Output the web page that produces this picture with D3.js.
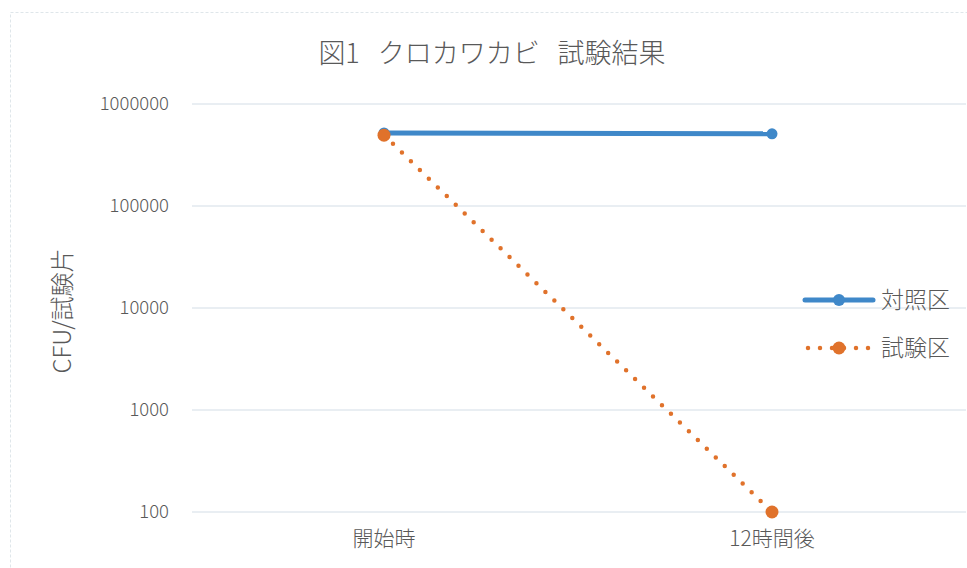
<!DOCTYPE html>
<html><head><meta charset="utf-8">
<script src="https://cdn.jsdelivr.net/npm/d3@7"></script>
<style>
html,body{margin:0;padding:0;background:#fff;}
svg{display:block;font-family:"Noto Sans CJK JP","Noto Sans",sans-serif;}
text{font-weight:300;}
</style></head>
<body>
<svg id="chart" width="967" height="568"></svg>
<script>
const title = "図1\u00a0\u00a0\u00a0クロカワカビ\u00a0\u00a0\u00a0試験結果";
const yAxisTitle = "CFU/試験片";
const categories = ["開始時", "12時間後"];
const seriesNames = ["対照区", "試験区"];
const controlValues = [520000, 510000];
const testValues = [495000, 100];
const yTicks = [100, 1000, 10000, 100000, 1000000];

const colors = {"対照区": "#3f88c9", "試験区": "#e0722b"};
const textColor = "#595959";
const fam = "'Noto Sans CJK JP','Noto Sans',sans-serif";

const svg = d3.select("#chart");
const plot = {left: 190, right: 966, top: 104, bottom: 512};

// faint chart border
svg.append("rect").attr("x", 10.5).attr("y", 12.5).attr("width", 1000).attr("height", 600)
  .attr("fill", "none").attr("stroke", "#dfe6ea").attr("stroke-width", 1).attr("stroke-dasharray", "3 2");

const x = d3.scaleBand().domain(categories).range([plot.left, plot.right]);
const y = d3.scaleLog().domain([100, 1000000]).range([plot.bottom, plot.top]);

// gridlines
svg.append("g").selectAll("line").data(yTicks).join("line")
  .attr("x1", plot.left + 2).attr("x2", plot.right)
  .attr("y1", d => y(d)).attr("y2", d => y(d))
  .attr("stroke", "#d3dde6").attr("stroke-width", 1);

// y axis labels
const yAxis = d3.axisLeft(y).tickValues(yTicks).tickFormat(d3.format("d")).tickSize(0).tickPadding(0);
const yg = svg.append("g").attr("transform", `translate(${plot.left - 21},0)`).call(yAxis);
yg.select(".domain").remove();
yg.selectAll("text").attr("fill", textColor).style("font-size", "18.5px").style("font-family", fam).style("font-weight", 300);

// x axis labels
const xAxis = d3.axisBottom(x).tickSize(0).tickPadding(0);
const xg = svg.append("g").attr("transform", `translate(0,${plot.bottom + 19})`).call(xAxis);
xg.select(".domain").remove();
xg.selectAll("text").attr("fill", textColor).style("font-size", "21px").style("font-family", fam).style("font-weight", 300);

// title
svg.append("text").attr("x", 492).attr("y", 63).attr("text-anchor", "middle")
  .attr("fill", textColor).style("font-size", "27px").text(title);

// y axis title
svg.append("text").attr("transform", "translate(63,311) rotate(-90)").attr("text-anchor", "middle")
  .attr("dy", "0.35em").attr("fill", textColor).style("font-size", "24px").text(yAxisTitle);

const cx = d => x(d) + x.bandwidth() / 2;
const line = d3.line().x(d => cx(d[0])).y(d => y(d[1]));

const control = categories.map((c, i) => [c, controlValues[i]]);
const test = categories.map((c, i) => [c, testValues[i]]);

// control series
svg.append("path").datum(control).attr("d", line).attr("fill", "none")
  .attr("stroke", colors["対照区"]).attr("stroke-width", 5);
svg.append("g").selectAll("circle").data(control).join("circle")
  .attr("cx", d => cx(d[0])).attr("cy", d => y(d[1])).attr("r", 5.5).attr("fill", colors["対照区"]);

// test series (dotted)
svg.append("path").datum(test).attr("d", line).attr("fill", "none")
  .attr("stroke", colors["試験区"]).attr("stroke-width", 4.5)
  .attr("stroke-linecap", "round").attr("stroke-dasharray", "0 12.5");
svg.append("g").selectAll("circle").data(test).join("circle")
  .attr("cx", d => cx(d[0])).attr("cy", d => y(d[1])).attr("r", 6.5).attr("fill", colors["試験区"]);

// legend
const legend = svg.append("g");
seriesNames.forEach((name, i) => {
  const ly = 300 + i * 48;
  const g = legend.append("g");
  if (i === 0) {
    g.append("line").attr("x1", 805).attr("x2", 873).attr("y1", ly).attr("y2", ly)
      .attr("stroke", colors[name]).attr("stroke-width", 5).attr("stroke-linecap", "round");
    g.append("circle").attr("cx", 839).attr("cy", ly).attr("r", 6).attr("fill", colors[name]);
  } else {
    g.append("line").attr("x1", 808).attr("x2", 872).attr("y1", ly).attr("y2", ly)
      .attr("stroke", colors[name]).attr("stroke-width", 4.5).attr("stroke-linecap", "round")
      .attr("stroke-dasharray", "0 12");
    g.append("circle").attr("cx", 839).attr("cy", ly).attr("r", 6.5).attr("fill", colors[name]);
  }
  g.append("text").attr("x", 881).attr("y", ly).attr("dy", "0.35em")
    .attr("fill", textColor).style("font-size", "23px").text(name);
});
</script>
</body></html>
